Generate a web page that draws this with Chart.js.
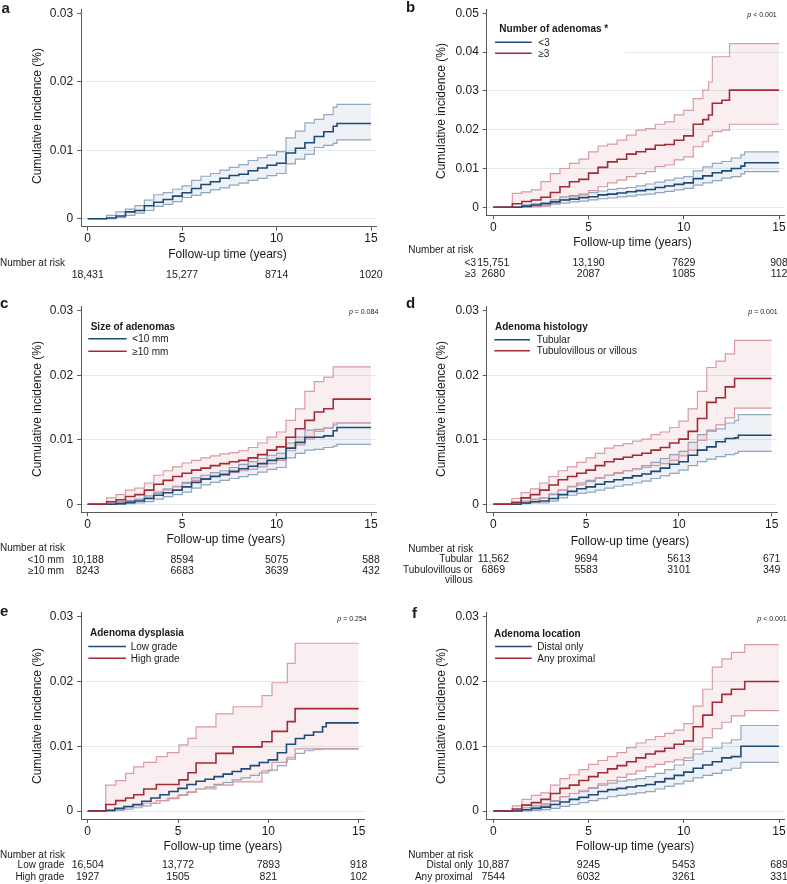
<!DOCTYPE html>
<html>
<head>
<meta charset="utf-8">
<script src="https://cdn.jsdelivr.net/npm/chart.js@4.4.1/dist/chart.umd.min.js"></script>
<style>
html, body { margin: 0; padding: 0; background: #fff; }
#wrap { position: relative; width: 787px; height: 884px; overflow: hidden; }
#wrap canvas { position: absolute; left: 0; top: 0; }
</style>
</head>
<body>
<div id="wrap">
<canvas id="pa" width="787" height="884"></canvas>
<canvas id="pb" width="787" height="884"></canvas>
<canvas id="pc" width="787" height="884"></canvas>
<canvas id="pd" width="787" height="884"></canvas>
<canvas id="pe" width="787" height="884"></canvas>
<canvas id="pf" width="787" height="884"></canvas>
</div>
<script>
// ---- DATA ----
const xTicks = [0, 5, 10, 15];
const yTicks03 = [0, 0.01, 0.02, 0.03];
const yTicks05 = [0, 0.01, 0.02, 0.03, 0.04, 0.05];

// common time grid (years)
const tGrid = [0, 1, 1.5, 2, 2.5, 3, 3.5, 4, 4.5, 5, 5.5, 6, 6.5, 7, 7.5, 8, 8.5, 9, 9.5, 10, 10.5, 11, 11.5, 12, 12.5, 13, 13.2, 15];

// a - all patients
const aEst = [0, 0.0001, 0.0004, 0.001, 0.0012, 0.0019, 0.0024, 0.0028, 0.0033, 0.0038, 0.0044, 0.005, 0.0054, 0.0059, 0.0063, 0.0065, 0.007, 0.0074, 0.0078, 0.0081, 0.0096, 0.0103, 0.0111, 0.012, 0.0127, 0.0135, 0.0139, 0.0139];
const aHi  = [0, 0.0005, 0.001, 0.0014, 0.0019, 0.0027, 0.0035, 0.0038, 0.0043, 0.0048, 0.0056, 0.0062, 0.0066, 0.0071, 0.0075, 0.0079, 0.0085, 0.0089, 0.0093, 0.0098, 0.0118, 0.0128, 0.014, 0.0145, 0.0152, 0.0163, 0.0167, 0.0167];
const aLo  = [0, 0, 0.0002, 0.0005, 0.0008, 0.0012, 0.0018, 0.0021, 0.0025, 0.0031, 0.0034, 0.0038, 0.0042, 0.0045, 0.0049, 0.0052, 0.0056, 0.0059, 0.0063, 0.0066, 0.008, 0.0087, 0.0094, 0.0104, 0.0107, 0.011, 0.0115, 0.0115];
const aRisk = ['18,431', '15,277', '8714', '1020'];

// b - number of adenomas
const bLegend = ['<3', '\u22653'];
const bLowEst = [0, 0, 0.0003, 0.0006, 0.0009, 0.0014, 0.0019, 0.0021, 0.0025, 0.0027, 0.0032, 0.0034, 0.0037, 0.004, 0.0043, 0.0046, 0.0051, 0.0055, 0.0059, 0.0063, 0.0074, 0.0081, 0.0089, 0.0094, 0.01, 0.0106, 0.0115, 0.0115];
const bLowHi  = [0, 0.0002, 0.0006, 0.0009, 0.0012, 0.0019, 0.0027, 0.003, 0.0034, 0.0038, 0.0042, 0.0046, 0.0049, 0.0051, 0.0055, 0.006, 0.0065, 0.007, 0.0075, 0.0079, 0.0094, 0.0104, 0.0113, 0.0118, 0.0127, 0.0135, 0.0143, 0.0143];
const bLowLo  = [0, 0, 0.0002, 0.0003, 0.0004, 0.0008, 0.0011, 0.0014, 0.0016, 0.0019, 0.0022, 0.0024, 0.0027, 0.0029, 0.0032, 0.0034, 0.0038, 0.0041, 0.0045, 0.0049, 0.0057, 0.0063, 0.0069, 0.0075, 0.0079, 0.0086, 0.0092, 0.0092];
const bHighT   = [0, 1, 1.5, 2, 2.5, 3, 3.5, 4, 4.5, 5, 5.5, 6, 6.5, 7, 7.5, 8, 8.5, 9, 9.5, 10, 10.5, 11, 11.3, 11.5, 12, 12.4, 15];
const bHighEst = [0, 0.0009, 0.0015, 0.0019, 0.0026, 0.0038, 0.0053, 0.0066, 0.0072, 0.0088, 0.0103, 0.0117, 0.0124, 0.0137, 0.0143, 0.015, 0.016, 0.0162, 0.0173, 0.0184, 0.0214, 0.0226, 0.0238, 0.0268, 0.0276, 0.0302, 0.0302];
const bHighHi  = [0, 0.0036, 0.004, 0.0045, 0.0066, 0.0087, 0.01, 0.0113, 0.0124, 0.0143, 0.0158, 0.0163, 0.0173, 0.0186, 0.0199, 0.0203, 0.0214, 0.022, 0.0238, 0.025, 0.028, 0.0302, 0.0323, 0.0388, 0.0388, 0.0422, 0.0422];
const bHighLo  = [0, 0, 0, 0.0001, 0.0003, 0.001, 0.0019, 0.0027, 0.0032, 0.0043, 0.0053, 0.0063, 0.007, 0.0079, 0.0087, 0.0092, 0.0105, 0.0109, 0.0122, 0.013, 0.0156, 0.0169, 0.0184, 0.0195, 0.0199, 0.0214, 0.0214];
const bRiskLow  = ['15,751', '13,190', '7629', '908'];
const bRiskHigh = ['2680', '2087', '1085', '112'];

// c - size of adenomas
const cLegend = ['<10 mm', '\u226510 mm'];
const cSmallEst = [0, 0, 0.0001, 0.0003, 0.0005, 0.0009, 0.0014, 0.0018, 0.0022, 0.0027, 0.0034, 0.0039, 0.0043, 0.0046, 0.0051, 0.0055, 0.0059, 0.0063, 0.0068, 0.0071, 0.0087, 0.0096, 0.0104, 0.0104, 0.0106, 0.0114, 0.0119, 0.0119];
const cSmallHi  = [0, 0.0002, 0.0004, 0.0006, 0.0008, 0.0013, 0.0019, 0.0024, 0.0028, 0.0034, 0.0041, 0.0045, 0.0049, 0.0052, 0.0057, 0.0062, 0.0066, 0.0071, 0.0076, 0.0079, 0.0095, 0.0104, 0.0115, 0.0116, 0.0118, 0.0123, 0.0126, 0.0126];
const cSmallLo  = [0, 0, 0, 0.0001, 0.0002, 0.0004, 0.0008, 0.0012, 0.0015, 0.0019, 0.0025, 0.003, 0.0034, 0.0037, 0.004, 0.0043, 0.0046, 0.005, 0.0054, 0.0057, 0.0072, 0.0079, 0.0084, 0.0085, 0.0088, 0.009, 0.0093, 0.0093];
const cLargeEst = [0, 0.0004, 0.0007, 0.0012, 0.0015, 0.0022, 0.0031, 0.0037, 0.0043, 0.0048, 0.0053, 0.0056, 0.006, 0.0063, 0.0066, 0.0068, 0.0072, 0.0077, 0.0084, 0.0089, 0.0104, 0.0117, 0.013, 0.0143, 0.0148, 0.0163, 0.0163, 0.0163];
const cLargeHi  = [0, 0.001, 0.0015, 0.0022, 0.0025, 0.0033, 0.0045, 0.0052, 0.0058, 0.0064, 0.0068, 0.0072, 0.0075, 0.0078, 0.008, 0.0083, 0.0088, 0.0095, 0.0104, 0.0112, 0.013, 0.0148, 0.0175, 0.019, 0.0197, 0.0213, 0.0213, 0.0213];
const cLargeLo  = [0, 0, 0.0002, 0.0004, 0.0006, 0.001, 0.0017, 0.0022, 0.0027, 0.0032, 0.0037, 0.004, 0.0044, 0.0047, 0.0049, 0.0052, 0.0054, 0.0058, 0.0063, 0.0068, 0.0083, 0.0092, 0.0101, 0.0113, 0.0118, 0.0126, 0.0126, 0.0126];
const cRiskSmall = ['10,188', '8594', '5075', '588'];
const cRiskLarge = ['8243', '6683', '3639', '432'];

// d - adenoma histology
const dLegend = ['Tubular', 'Tubulovillous or villous'];
const dTubEst = [0, 0, 0.0002, 0.0004, 0.0005, 0.0009, 0.0015, 0.002, 0.0024, 0.0027, 0.0031, 0.0035, 0.0038, 0.0041, 0.0044, 0.0047, 0.0051, 0.0056, 0.0062, 0.0066, 0.0076, 0.0084, 0.0089, 0.0097, 0.0102, 0.0103, 0.0107, 0.0107];
const dTubHi  = [0, 0.0002, 0.0005, 0.0008, 0.001, 0.0015, 0.0022, 0.0028, 0.0033, 0.0037, 0.0041, 0.0045, 0.0048, 0.0052, 0.0055, 0.006, 0.0065, 0.0071, 0.0077, 0.0082, 0.0096, 0.0108, 0.0115, 0.0117, 0.0126, 0.013, 0.0139, 0.0139];
const dTubLo  = [0, 0, 0.0001, 0.0002, 0.0002, 0.0005, 0.001, 0.0014, 0.0017, 0.0019, 0.0022, 0.0025, 0.0028, 0.003, 0.0033, 0.0036, 0.004, 0.0044, 0.0048, 0.0053, 0.006, 0.0066, 0.007, 0.0074, 0.0077, 0.0079, 0.0082, 0.0082];
const dVilEst = [0, 0.0003, 0.001, 0.0015, 0.0022, 0.003, 0.0038, 0.0043, 0.0048, 0.0053, 0.006, 0.0066, 0.007, 0.0073, 0.0076, 0.0079, 0.0084, 0.0088, 0.0095, 0.0101, 0.0113, 0.0133, 0.0158, 0.0165, 0.0182, 0.0195, 0.0195, 0.0195];
const dVilHi  = [0, 0.0009, 0.0018, 0.0024, 0.0033, 0.0043, 0.0052, 0.0058, 0.0065, 0.0072, 0.0079, 0.0087, 0.0091, 0.0094, 0.0098, 0.0101, 0.0108, 0.0112, 0.0119, 0.0129, 0.0148, 0.0175, 0.0212, 0.0222, 0.0233, 0.0254, 0.0254, 0.0254];
const dVilLo  = [0, 0, 0.0003, 0.0007, 0.001, 0.0016, 0.0022, 0.0027, 0.003, 0.0035, 0.0041, 0.0045, 0.0049, 0.0052, 0.0055, 0.0057, 0.006, 0.0063, 0.0068, 0.0075, 0.0084, 0.0099, 0.0113, 0.0123, 0.0134, 0.0149, 0.0149, 0.0149];
const dRiskTub = ['11,562', '9694', '5613', '671'];
const dRiskVil = ['6869', '5583', '3101', '349'];

// e - adenoma dysplasia
const eLegend = ['Low grade', 'High grade'];
const eLowEst = [0, 0.0001, 0.0004, 0.0007, 0.001, 0.0015, 0.002, 0.0025, 0.003, 0.0035, 0.0041, 0.0046, 0.0049, 0.0053, 0.0057, 0.0061, 0.0065, 0.007, 0.0075, 0.0079, 0.009, 0.0103, 0.0112, 0.0117, 0.0122, 0.013, 0.0136, 0.0136];
const eLowLo  = [0, 0, 0.0001, 0.0003, 0.0005, 0.0008, 0.0012, 0.0016, 0.002, 0.0024, 0.0029, 0.0034, 0.0037, 0.0041, 0.0044, 0.0048, 0.0051, 0.0055, 0.0059, 0.0063, 0.007, 0.008, 0.0089, 0.0093, 0.0095, 0.0096, 0.0096, 0.0096];
const eHighT   = [0, 1, 1.55, 2.1, 2.55, 3.1, 3.8, 4.4, 5.05, 5.55, 6, 7.1, 8.05, 9.65, 10.2, 11.05, 11.48, 15];
const eHighEst = [0, 0.001, 0.0016, 0.002, 0.0025, 0.0034, 0.0041, 0.0041, 0.0048, 0.0059, 0.0074, 0.0089, 0.0099, 0.0107, 0.0123, 0.0138, 0.0158, 0.0158];
const eHighHi  = [0, 0.004, 0.0047, 0.0058, 0.0068, 0.0075, 0.0084, 0.009, 0.0102, 0.0112, 0.013, 0.015, 0.0161, 0.0178, 0.0198, 0.0228, 0.0259, 0.0259];
const eHighLo  = [0, 0.0001, 0.0003, 0.0006, 0.0008, 0.0012, 0.0016, 0.0019, 0.0025, 0.0029, 0.0034, 0.004, 0.0045, 0.0062, 0.0075, 0.0083, 0.0096, 0.0096];
const eRiskLow  = ['16,504', '13,772', '7893', '918'];
const eRiskHigh = ['1927', '1505', '821', '102'];

// f - adenoma location
const fLegend = ['Distal only', 'Any proximal'];
const fDistEst = [0, 0, 0.0002, 0.0004, 0.0006, 0.001, 0.0014, 0.0018, 0.0021, 0.0025, 0.003, 0.0033, 0.0035, 0.0037, 0.0039, 0.0041, 0.0045, 0.005, 0.0055, 0.006, 0.0066, 0.0071, 0.0076, 0.0082, 0.0084, 0.01, 0.01, 0.01];
const fDistHi  = [0, 0.0001, 0.0005, 0.0008, 0.0011, 0.0016, 0.0022, 0.0027, 0.003, 0.0035, 0.004, 0.0043, 0.0046, 0.0048, 0.005, 0.0053, 0.0058, 0.0064, 0.0071, 0.0078, 0.0088, 0.0092, 0.0097, 0.0105, 0.011, 0.0132, 0.0132, 0.0132];
const fDistLo  = [0, 0, 0, 0.0001, 0.0002, 0.0004, 0.0007, 0.001, 0.0013, 0.0016, 0.0019, 0.0022, 0.0024, 0.0026, 0.0028, 0.003, 0.0034, 0.0038, 0.0042, 0.0046, 0.0051, 0.0055, 0.0058, 0.0063, 0.0066, 0.0075, 0.0075, 0.0075];
const fProxEst = [0, 0.0003, 0.0009, 0.0013, 0.0018, 0.0027, 0.0035, 0.004, 0.0047, 0.0053, 0.0059, 0.0065, 0.007, 0.0076, 0.0082, 0.0088, 0.0092, 0.0097, 0.0103, 0.0108, 0.013, 0.0148, 0.0168, 0.018, 0.0188, 0.0188, 0.02, 0.02];
const fProxHi  = [0, 0.0008, 0.0018, 0.0024, 0.0028, 0.004, 0.005, 0.0056, 0.0064, 0.0072, 0.0078, 0.0084, 0.009, 0.0098, 0.0105, 0.011, 0.0115, 0.012, 0.0125, 0.0135, 0.0162, 0.0188, 0.0222, 0.0235, 0.0245, 0.0245, 0.0257, 0.0257];
const fProxLo  = [0, 0, 0.0002, 0.0005, 0.0009, 0.0015, 0.0022, 0.0027, 0.0032, 0.0036, 0.0042, 0.0047, 0.0052, 0.0057, 0.0062, 0.0068, 0.0072, 0.0076, 0.0079, 0.0082, 0.0095, 0.0113, 0.0127, 0.0137, 0.0147, 0.0147, 0.0155, 0.0155];
const fRiskDist = ['10,887', '9245', '5453', '689'];
const fRiskProx = ['7544', '6032', '3261', '331'];

// ---- STYLE ----
const FONT = '"Liberation Sans", Arial, Helvetica, sans-serif';
const INK = '#1a1a1a';
const AXIS = '#5a5a5a';
const GRID = '#e2ecef';
const BLUE = '#1f4a78', BLUE_CI = '#93a9c3', BLUE_FILL = 'rgba(40,80,130,0.08)';
const RED = '#a62a35', RED_CI = '#d99ca3', RED_FILL = 'rgba(180,50,65,0.08)';
const X_TITLE = 'Follow-up time (years)';
const Y_TITLE = 'Cumulative incidence (%)';

Chart.defaults.font.family = FONT;

function pts(t, v) {
  return t.map((x, i) => ({ x: x, y: v[i] }));
}

function estLine(t, v, color) {
  return { data: pts(t, v), borderColor: color, borderWidth: 1.6, stepped: 'before', fill: false, pointRadius: 0 };
}

function band(t, lo, hi, color, fillColor) {
  const out = [];
  if (hi) {
    out.push({ data: pts(t, hi), borderColor: color, borderWidth: 1.2, stepped: 'before',
               fill: '+1', backgroundColor: fillColor, pointRadius: 0 });
  }
  out.push({ data: pts(t, lo), borderColor: color, borderWidth: 1.2, stepped: 'before', fill: false, pointRadius: 0 });
  return out;
}

// text drawn around each panel (letter, legend, p value, titles, number at risk)
function panelText(p) {
  return {
    id: 'panelText',
    beforeDatasetsDraw(chart) {
      if (!p.legend) return;
      const ctx = chart.ctx, b = p.legend.box;
      ctx.save();
      ctx.fillStyle = '#fff';
      ctx.fillRect(b[0], b[1], b[2], b[3]);
      ctx.restore();
    },
    afterDraw(chart) {
      const ctx = chart.ctx, xs = chart.scales.x;
      ctx.save();
      ctx.fillStyle = INK;
      ctx.textBaseline = 'alphabetic';

      ctx.font = 'bold 15px ' + FONT;
      ctx.textAlign = 'left';
      ctx.fillText(p.letter[0], p.letter[1], p.letter[2]);

      if (p.pval) {
        ctx.font = '7px ' + FONT;
        ctx.textAlign = 'right';
        ctx.fillText(p.pval[0], p.pval[1], p.pval[2]);
        const w = ctx.measureText(p.pval[0]).width;
        ctx.font = 'italic 7px ' + FONT;
        ctx.fillText('p', p.pval[1] - w, p.pval[2]);
      }

      if (p.legend) {
        const L = p.legend;
        ctx.textAlign = 'left';
        ctx.font = 'bold 10px ' + FONT;
        ctx.fillText(L.title, L.tx, L.ty);
        ctx.font = '10px ' + FONT;
        L.labels.forEach((lab, i) => {
          ctx.strokeStyle = i === 0 ? BLUE : RED;
          ctx.lineWidth = 1.5;
          ctx.beginPath();
          ctx.moveTo(L.x1, L.ly[i]);
          ctx.lineTo(L.x2, L.ly[i]);
          ctx.stroke();
          ctx.fillText(lab, L.textX, L.ly[i] + 3.4);
        });
      }

      ctx.font = '12px ' + FONT;
      ctx.textAlign = 'center';
      ctx.fillText(X_TITLE, p.xTitle[0], p.xTitle[1]);
      ctx.save();
      ctx.translate(p.yTitle[0], p.yTitle[1]);
      ctx.rotate(-Math.PI / 2);
      ctx.textBaseline = 'middle';
      ctx.fillText(Y_TITLE, 0, 0);
      ctx.restore();

      ctx.font = '10px ' + FONT;
      ctx.textAlign = 'left';
      ctx.fillText('Number at risk', p.riskHead[0], p.riskHead[1]);
      p.rows.forEach(r => {
        ctx.font = '10px ' + FONT;
        ctx.textAlign = 'right';
        if (r.label) {
          r.label.forEach((s, k) => ctx.fillText(s, p.rowRight, r.y + k * 10.6));
        }
        ctx.font = '10.5px ' + FONT;
        ctx.textAlign = 'center';
        r.vals.forEach((v, i) => ctx.fillText(v, xs.getPixelForValue(xTicks[i]), r.y));
      });
      ctx.restore();
    }
  };
}

function makePanel(id, g, yTicks, datasets, p) {
  const W = 787, H = 884, AXW = 45, AXH = 30;
  const kx = (g.x15 - g.x0) / 15;
  const ky = (g.y0 - g.yTop) / yTicks[yTicks.length - 1];
  const left = g.x0 - 6.5, right = g.x15 + 5.5;
  const top = g.yTop - 4, bottom = g.y0 + 8;
  const last = yTicks.length - 1;
  new Chart(document.getElementById(id), {
    type: 'line',
    data: { datasets: datasets },
    options: {
      responsive: false,
      animation: false,
      events: [],
      layout: { padding: { left: left - AXW, top: top, right: W - right, bottom: H - bottom - AXH } },
      plugins: { legend: { display: false }, tooltip: { enabled: false } },
      scales: {
        x: {
          type: 'linear',
          min: -6.5 / kx,
          max: 15 + 5.5 / kx,
          afterBuildTicks: s => { s.ticks = xTicks.map(v => ({ value: v })); },
          afterFit: s => { s.height = AXH; s.paddingLeft = 0; s.paddingRight = 0; },
          ticks: { color: INK, font: { size: 12 }, padding: 1, maxRotation: 0, autoSkip: false },
          grid: { drawOnChartArea: false, drawTicks: true, tickLength: 4, tickColor: AXIS },
          border: { display: true, color: AXIS, width: 1 }
        },
        y: {
          type: 'linear',
          min: -8 / ky,
          max: yTicks[last] + 4 / ky,
          afterBuildTicks: s => { s.ticks = yTicks.map(v => ({ value: v })); },
          afterFit: s => { s.width = AXW; s.paddingTop = 0; s.paddingBottom = 0; },
          ticks: { color: INK, font: { size: 12 }, padding: 4, autoSkip: false,
                   callback: v => (v === 0 ? '0' : v.toFixed(2)) },
          grid: { drawTicks: true, tickLength: 4, tickColor: AXIS, lineWidth: 1,
                  color: c => (c.index === last ? 'rgba(0,0,0,0)' : GRID) },
          border: { display: true, color: AXIS, width: 1 }
        }
      }
    },
    plugins: [panelText(p)]
  });
}

// a
makePanel('pa', { x0: 87.7, x15: 371.0, y0: 218.7, yTop: 13.3 }, yTicks03,
  [estLine(tGrid, aEst, BLUE)].concat(band(tGrid, aLo, aHi, BLUE_CI, BLUE_FILL)),
  { letter: ['a', 1.5, 12.5], pval: null, legend: null,
    xTitle: [227.5, 258], yTitle: [37.5, 116],
    riskHead: [0, 265.7], rowRight: 0,
    rows: [{ label: null, vals: aRisk, y: 277.7 }] });

// b
makePanel('pb', { x0: 493.3, x15: 779.0, y0: 207.3, yTop: 13.3 }, yTicks05,
  [estLine(bHighT, bHighEst, RED), estLine(tGrid, bLowEst, BLUE)]
    .concat(band(bHighT, bHighLo, bHighHi, RED_CI, RED_FILL))
    .concat(band(tGrid, bLowLo, bLowHi, BLUE_CI, BLUE_FILL)),
  { letter: ['b', 406, 11.7], pval: [' < 0.001', 776.7, 16.7],
    legend: { title: 'Number of adenomas *', tx: 499.3, ty: 32.3, x1: 495, x2: 531.7, textX: 538.3,
              ly: [42.3, 53.3], labels: bLegend, box: [489, 20, 136, 42] },
    xTitle: [632.5, 246], yTitle: [441.7, 111],
    riskHead: [408.3, 252.7], rowRight: 476,
    rows: [{ label: [bLegend[0]], vals: bRiskLow, y: 265.7 },
           { label: [bLegend[1]], vals: bRiskHigh, y: 276.7 }] });

// c
makePanel('pc', { x0: 87.7, x15: 371.0, y0: 504.3, yTop: 310.7 }, yTicks03,
  [estLine(tGrid, cLargeEst, RED), estLine(tGrid, cSmallEst, BLUE)]
    .concat(band(tGrid, cLargeLo, cLargeHi, RED_CI, RED_FILL))
    .concat(band(tGrid, cSmallLo, cSmallHi, BLUE_CI, BLUE_FILL)),
  { letter: ['c', 0, 308.3], pval: [' = 0.084', 378.3, 314],
    legend: { title: 'Size of adenomas', tx: 90.7, ty: 330, x1: 88.3, x2: 126.7, textX: 132.3,
              ly: [338.7, 351.2], labels: cLegend, box: [84, 318, 120, 40] },
    xTitle: [225.8, 543.3], yTitle: [37.7, 409],
    riskHead: [0, 551], rowRight: 64,
    rows: [{ label: [cLegend[0]], vals: cRiskSmall, y: 562.7 },
           { label: [cLegend[1]], vals: cRiskLarge, y: 573.7 }] });

// d
makePanel('pd', { x0: 493.3, x15: 771.7, y0: 504.3, yTop: 310.7 }, yTicks03,
  [estLine(tGrid, dVilEst, RED), estLine(tGrid, dTubEst, BLUE)]
    .concat(band(tGrid, dVilLo, dVilHi, RED_CI, RED_FILL))
    .concat(band(tGrid, dTubLo, dTubHi, BLUE_CI, BLUE_FILL)),
  { letter: ['d', 406, 308], pval: [' = 0.001', 777.7, 314],
    legend: { title: 'Adenoma histology', tx: 495, ty: 330, x1: 494.3, x2: 530, textX: 536.7,
              ly: [339.7, 350.7], labels: dLegend, box: [489, 306, 160, 52] },
    xTitle: [630, 545], yTitle: [441.7, 409],
    riskHead: [408.3, 551.7], rowRight: 472.7,
    rows: [{ label: ['Tubular'], vals: dRiskTub, y: 561.7 },
           { label: ['Tubulovillous or', 'villous'], vals: dRiskVil, y: 572.7 }] });

// e
makePanel('pe', { x0: 87.7, x15: 358.7, y0: 811.0, yTop: 616.7 }, yTicks03,
  [estLine(eHighT, eHighEst, RED), estLine(tGrid, eLowEst, BLUE)]
    .concat(band(eHighT, eHighLo, eHighHi, RED_CI, RED_FILL))
    .concat(band(tGrid, eLowLo, null, BLUE_CI, BLUE_FILL)),
  { letter: ['e', 0, 616], pval: [' = 0.254', 366.7, 620.7],
    legend: { title: 'Adenoma dysplasia', tx: 90, ty: 636, x1: 88.3, x2: 126, textX: 130.7,
              ly: [646.5, 658.3], labels: eLegend, box: [84, 612, 170, 52] },
    xTitle: [222.8, 850], yTitle: [37.7, 716],
    riskHead: [0, 857.7], rowRight: 64.3,
    rows: [{ label: [eLegend[0]], vals: eRiskLow, y: 868.3 },
           { label: [eLegend[1]], vals: eRiskHigh, y: 880.3 }] });

// f
makePanel('pf', { x0: 493.3, x15: 779.0, y0: 811.0, yTop: 616.7 }, yTicks03,
  [estLine(tGrid, fProxEst, RED), estLine(tGrid, fDistEst, BLUE)]
    .concat(band(tGrid, fProxLo, fProxHi, RED_CI, RED_FILL))
    .concat(band(tGrid, fDistLo, fDistHi, BLUE_CI, BLUE_FILL)),
  { letter: ['f', 412, 618], pval: [' < 0.001', 786.7, 620.7],
    legend: { title: 'Adenoma location', tx: 494, ty: 636.7, x1: 495, x2: 531.7, textX: 537.3,
              ly: [646.5, 658.3], labels: fLegend, box: [489, 612, 120, 52] },
    xTitle: [635, 850], yTitle: [441.7, 716],
    riskHead: [408.3, 857.7], rowRight: 472.7,
    rows: [{ label: [fLegend[0]], vals: fRiskDist, y: 868.3 },
           { label: [fLegend[1]], vals: fRiskProx, y: 880 }] });
</script>
</body>
</html>
